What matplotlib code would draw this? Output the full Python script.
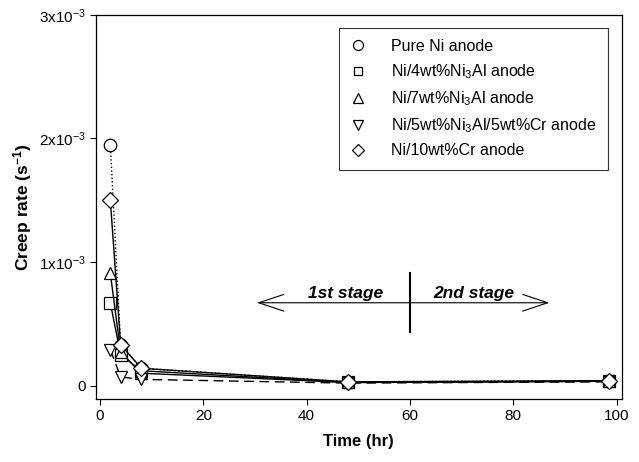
import matplotlib
matplotlib.use("Agg")
import matplotlib.pyplot as plt
from matplotlib.ticker import FixedLocator

plt.rcParams['font.family'] = ['Liberation Sans', 'DejaVu Sans']
plt.rcParams['mathtext.fontset'] = 'custom'
plt.rcParams['mathtext.rm'] = 'Liberation Sans'
plt.rcParams['mathtext.bf'] = 'Liberation Sans:bold'
plt.rcParams['mathtext.it'] = 'Liberation Sans:italic'

# Data (creep rate in 1e-3 s^-1)
time_hr = [2, 4, 8, 48, 98.5]
pure_ni = [1.95, 0.33, 0.14, 0.03, 0.04]
ni_4ni3al = [0.67, 0.25, 0.12, 0.025, 0.035]
ni_7ni3al = [0.91, 0.27, 0.10, 0.025, 0.035]
ni_5ni3al_5cr = [0.29, 0.07, 0.05, 0.02, 0.03]
ni_10cr = [1.5, 0.33, 0.14, 0.03, 0.04]

labels = ['Pure Ni anode', r'Ni/4wt%Ni$_3$Al anode', r'Ni/7wt%Ni$_3$Al anode',
          r'Ni/5wt%Ni$_3$Al/5wt%Cr anode', 'Ni/10wt%Cr anode']
series = [pure_ni, ni_4ni3al, ni_7ni3al, ni_5ni3al_5cr, ni_10cr]
markers = ['o', 's', '^', 'v', 'D']
msizes = [9, 8, 9, 9, 8]
linestyles = [':', '-', '-', (0, (7, 4)), '-']

xticks = [0, 20, 40, 60, 80, 100]
yticks = [0, 1e-3, 2e-3, 3e-3]
yticklabels = ['0', r'$\mathregular{1x10^{-3}}$', r'$\mathregular{2x10^{-3}}$', r'$\mathregular{3x10^{-3}}$']

fig = plt.figure(figsize=(6.39, 4.62), dpi=100)
ax = fig.add_axes([0.150, 0.136, 0.823, 0.832])

for vals, m, ms, ls, lab in zip(series, markers, msizes, linestyles, labels):
    yv = [v * 1e-3 for v in vals]
    ax.plot(time_hr, yv, linestyle=ls, color='black', lw=1.0)
    ax.plot(time_hr, yv, linestyle='none', marker=m, markersize=ms,
            markerfacecolor='white', markeredgecolor='black', markeredgewidth=0.9,
            label=lab)

ax.set_xlim(-0.8, 101)
ax.set_ylim(-0.11e-3, 3e-3)
ax.xaxis.set_major_locator(FixedLocator(xticks))
ax.yaxis.set_major_locator(FixedLocator(yticks))
ax.set_yticklabels(yticklabels)
ax.tick_params(axis='both', direction='out', length=4, width=0.8, labelsize=11,
               top=False, right=False, pad=3)
for s in ax.spines.values():
    s.set_linewidth(0.9)

ax.set_xlabel('Time (hr)', fontsize=12, fontweight='bold', labelpad=8)
ax.set_ylabel(r'Creep rate (s$^{\mathbf{-1}}$)', fontsize=12.5, fontweight='bold', labelpad=4)

# stage annotations
ax.annotate('', xy=(30.4, 0.67e-3), xytext=(87, 0.67e-3),
            arrowprops=dict(arrowstyle='<->, head_length=0.9, head_width=0.3',
                            lw=0.8, color='black', mutation_scale=20,
                            shrinkA=0, shrinkB=0))
ax.plot([60, 60], [0.43e-3, 0.91e-3], color='black', lw=1.5)
ax.text(47.6, 0.745e-3, '1st stage', fontsize=12.5, fontweight='bold', style='italic',
        ha='center', va='center')
ax.text(72.4, 0.745e-3, '2nd stage', fontsize=12.5, fontweight='bold', style='italic',
        ha='center', va='center')

leg = ax.legend(loc='upper right', bbox_to_anchor=(0.974, 0.966), fontsize=11.5,
                frameon=True, fancybox=False, edgecolor='black', numpoints=1,
                markerscale=0.8, handlelength=1.0, labelspacing=0.52, borderpad=0.7,
                handletextpad=1.6, borderaxespad=0)
leg.get_frame().set_linewidth(0.8)

fig.savefig('out.png', dpi=100)
